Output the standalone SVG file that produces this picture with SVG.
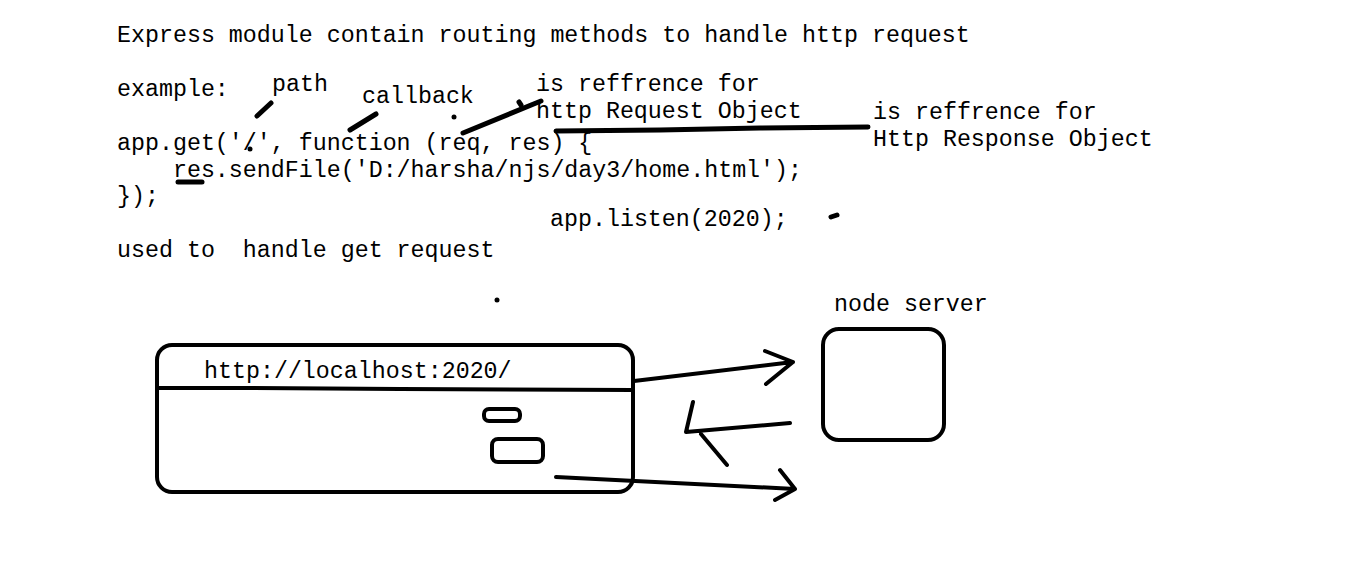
<svg xmlns="http://www.w3.org/2000/svg" width="1349" height="567" viewBox="0 0 1349 567">
<style>
text{font-family:"Liberation Mono","Courier New",monospace;font-size:23.3px;fill:#000;white-space:pre}
.s{fill:none;stroke:#000;stroke-width:4;stroke-linecap:round;stroke-linejoin:round}
.m{fill:none;stroke:#000;stroke-width:5;stroke-linecap:round}
</style>
<rect width="1349" height="567" fill="#fff"/>
<g id="code">
<text x="117" y="42">Express module contain routing methods to handle http request</text>
<text x="117" y="96">example:</text>
<text x="117" y="150">app.get('/', function (req, res) {</text>
<text x="117" y="177">    res.sendFile('D:/harsha/njs/day3/home.html');</text>
<text x="117" y="203">});</text>
<text x="117" y="257">used to  handle get request</text>
<text x="550" y="226">app.listen(2020);</text>
</g>
<g id="annotations">
<text x="272" y="91">path</text>
<text x="362" y="103">callback</text>
<text x="536" y="91">is reffrence for</text>
<text x="536" y="118">http Request Object</text>
<text x="873" y="119">is reffrence for</text>
<text x="873" y="146">Http Response Object</text>
<line class="m" x1="257" y1="116" x2="271" y2="103"/>
<line class="m" x1="350" y1="130" x2="376" y2="114"/>
<line class="m" x1="463" y1="133" x2="541" y2="101"/>
<line class="m" x1="519" y1="102" x2="521" y2="105"/>
<path class="m" d="M556 131 L660 130 L760 128 L868 127"/>
<line class="m" x1="178" y1="182" x2="202" y2="182"/>
<circle cx="250" cy="149" r="2.5"/>
<circle cx="454" cy="117" r="2.5"/>
<circle cx="497" cy="300" r="2.5"/>
<line class="m" x1="831" y1="217" x2="837" y2="215"/>
</g>
<g id="browser">
<rect class="s" x="157" y="345" width="476" height="147" rx="15"/>
<path class="s" d="M158 388 L240 388 L400 389 L633 390"/>
<text x="204" y="378">http://localhost:2020/</text>
<rect class="s" x="484" y="409" width="36" height="12" rx="5"/>
<rect class="s" x="492" y="439" width="51" height="23" rx="6"/>
</g>
<g id="server">
<text x="834" y="311">node server</text>
<rect class="s" x="823" y="329" width="121" height="111" rx="16"/>
</g>
<g id="connectors">
<path class="s" d="M634 381 L793 362 M765 351 L793 362 L766 384"/>
<path class="s" d="M790 423 L686 432 L693 402 M701 434 L727 465"/>
<path class="s" d="M556 477 L795 489 M780 470 L795 489 L775 500"/>
</g>
</svg>
